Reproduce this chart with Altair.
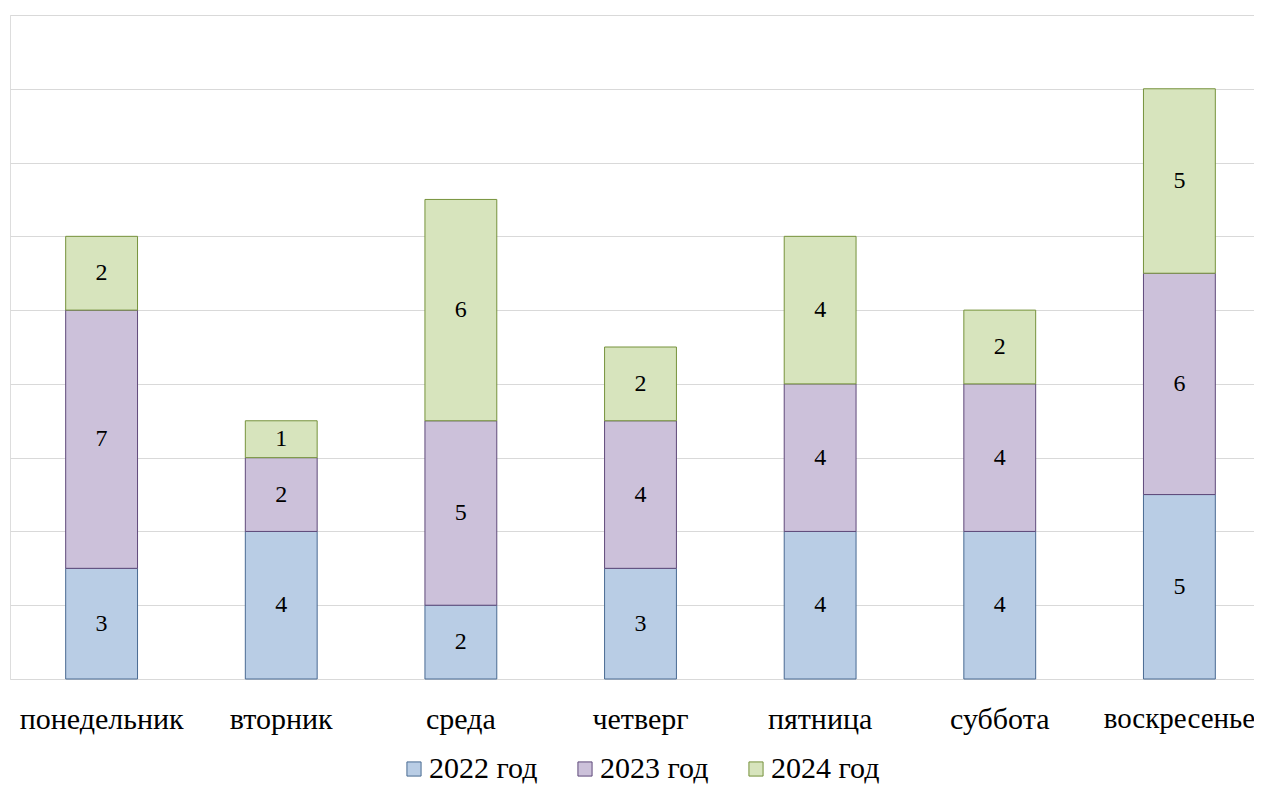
import altair as alt
import pandas as pd

days = ["понедельник", "вторник", "среда", "четверг", "пятница", "суббота", "воскресенье"]
series = ["2022 год", "2023 год", "2024 год"]
v2022 = [3, 4, 2, 3, 4, 4, 5]
v2023 = [7, 2, 5, 4, 4, 4, 6]
v2024 = [2, 1, 6, 2, 4, 2, 5]
fills = ["#b9cde5", "#ccc1da", "#d7e4bd"]
strokes = ["#4a6a92", "#5f4a7a", "#76923c"]

rows = []
for i, s in enumerate(series):
    vals = [v2022, v2023, v2024][i]
    for d, v in zip(days, vals):
        rows.append({"day": d, "series": s, "order": i, "value": v})
df = pd.DataFrame(rows)

FONT = "Liberation Serif"

base = alt.Chart(df).transform_stack(
    stack="value", groupby=["day"], as_=["y0", "y1"],
    sort=[alt.SortField("order", order="ascending")]
)

xscale = alt.Scale(range=[0, 1261], paddingInner=0.6, paddingOuter=0.31)
xenc = alt.X("day:N", sort=days, scale=xscale,
             axis=alt.Axis(title=None, domain=False, ticks=False, labelAngle=0,
                           labelFont=FONT,
                           labelFontSize={"condition": {"test": "datum.value == 'воскресенье'",
                                                        "value": 29}, "value": 30},
                           labelColor="black",
                           labelPadding=25, labelOverlap=False, labelBound=False))

yscale = alt.Scale(domain=[0, 18], nice=False)

legend_kw = dict(title=None, orient="none", direction="horizontal",
                 legendX=389, legendY=739,
                 symbolType="square", symbolSize=200,
                 symbolStrokeWidth=1, labelFont=FONT,
                 labelFontSize=30, labelColor="black",
                 columnPadding=32, labelOffset=0)

bars = base.mark_bar(strokeWidth=1).encode(
    x=xenc,
    y=alt.Y("y0:Q", scale=yscale,
            axis=alt.Axis(title=None, values=list(range(0, 19, 2)), labels=False,
                          ticks=False, domain=False, grid=True,
                          gridColor="#d9d9d9", gridWidth=1)),
    y2="y1:Q",
    fill=alt.Fill("series:N", scale=alt.Scale(domain=series, range=fills),
                  legend=alt.Legend(**legend_kw)),
    stroke=alt.Stroke("series:N", scale=alt.Scale(domain=series, range=strokes),
                      legend=alt.Legend(**legend_kw)),
    order=alt.Order("order:Q"),
)

labels = base.transform_calculate(mid="(datum.y0 + datum.y1) / 2").mark_text(
    font=FONT, fontSize=24, color="black", baseline="middle", align="center"
).encode(
    x=alt.X("day:N", sort=days, scale=xscale),
    y=alt.Y("mid:Q", scale=yscale),
    text=alt.Text("value:Q"),
)

chart = alt.layer(bars, labels).properties(
    width=1244, height=664,
    autosize=alt.AutoSizeParams(type="none"),
    padding={"left": 2, "top": 7, "right": 0, "bottom": 108},
).configure_view(stroke=None).configure(background="white")

chart.save("out.html", embed_options={"renderer": "svg", "actions": False})
